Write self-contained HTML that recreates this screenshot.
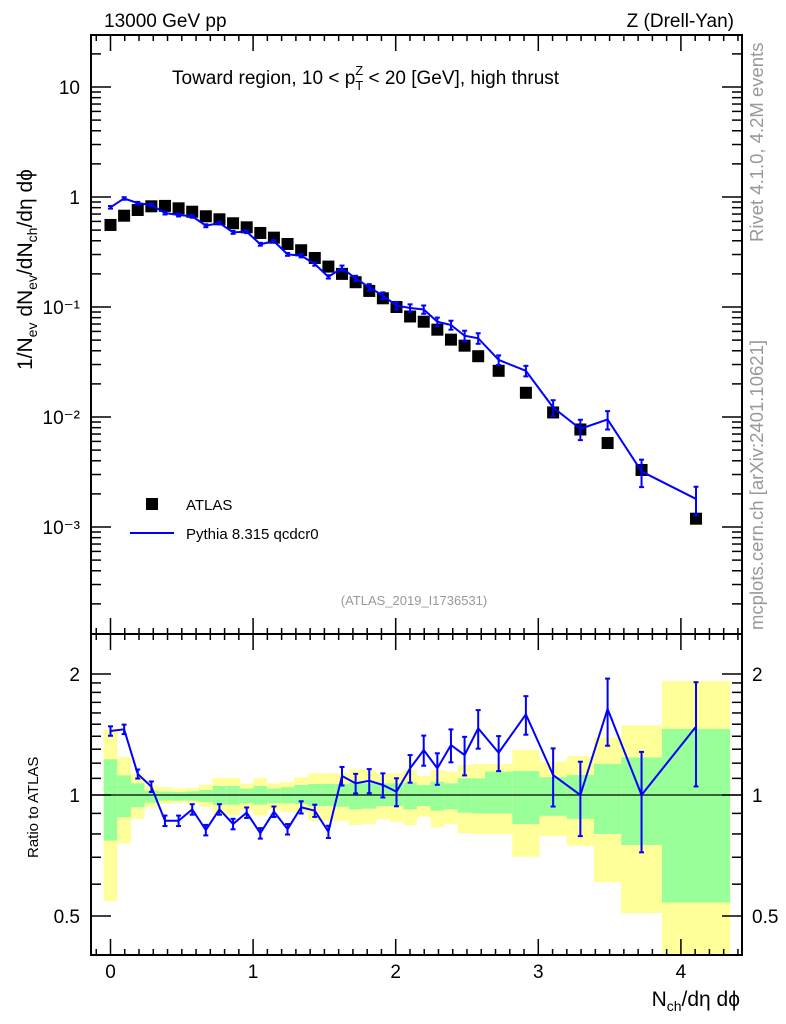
<!DOCTYPE html>
<html><head><meta charset="utf-8">
<style>
html,body{margin:0;padding:0;background:#fff;}
svg{display:block;font-family:"Liberation Sans",Arial,sans-serif;}
</style></head>
<body>
<svg id="chart" width="786" height="1024" viewBox="0 0 786 1024" xmlns="http://www.w3.org/2000/svg">
<g id="bands"></g>
<g id="marks"></g>
<g id="axes"></g>
<text x="104" y="27" font-size="19">13000 GeV pp</text>
<text x="734" y="27" font-size="19" text-anchor="end">Z (Drell-Yan)</text>
<text x="172" y="84" font-size="19">Toward region, 10 &lt; p<tspan font-size="13" dy="6">T</tspan><tspan font-size="13" dx="-8" dy="-15">Z</tspan><tspan dy="9"> &lt; 20 [GeV], high thrust</tspan></text>
<text x="414" y="605" font-size="13" fill="#999" text-anchor="middle">(ATLAS_2019_I1736531)</text>
<text transform="translate(763,242) rotate(-90)" font-size="18.5" fill="#999">Rivet 4.1.0,  4.2M events</text>
<text transform="translate(763,630) rotate(-90)" font-size="18.5" fill="#999">mcplots.cern.ch [arXiv:2401.10621]</text>
<text transform="translate(32,370) rotate(-90)" font-size="21">1/N<tspan font-size="14" dy="5">ev</tspan><tspan dy="-5"> dN</tspan><tspan font-size="14" dy="5">ev</tspan><tspan dy="-5">/dN</tspan><tspan font-size="14" dy="5">ch</tspan><tspan dy="-5">/dη dϕ</tspan></text>
<text transform="translate(38,858) rotate(-90)" font-size="15">Ratio to ATLAS</text>
<text x="740" y="1006" font-size="21" text-anchor="end">N<tspan font-size="14" dy="5">ch</tspan><tspan dy="-5">/dη dϕ</tspan></text>
<g>
<rect x="146" y="498" width="12" height="12" fill="#000"/>
<text x="186" y="510" font-size="15">ATLAS</text>
<line x1="130" y1="533" x2="174" y2="533" stroke="#0000ff" stroke-width="2"/>
<text x="186" y="539" font-size="15">Pythia 8.315 qcdcr0</text>
</g>
</svg>
<script>
// ---- data ----
const xVals = [0,0.0955,0.191,0.2865,0.382,0.4775,0.573,0.6685,0.764,0.8595,0.955,1.0505,1.146,1.2415,1.337,1.4325,1.528,1.6235,1.719,1.8145,1.91,2.0055,2.101,2.1965,2.292,2.3875,2.483,2.5785,2.722,2.913,3.104,3.295,3.486,3.724,4.106];
const binLo = [-0.0478,0.0478,0.1433,0.2388,0.3343,0.4298,0.5253,0.6208,0.7163,0.8118,0.9073,1.0028,1.0983,1.1938,1.2893,1.3848,1.4803,1.5758,1.6713,1.7668,1.8623,1.9578,2.0533,2.1488,2.2443,2.3398,2.4353,2.5308,2.6263,2.8173,3.0083,3.1993,3.3903,3.5813,3.8678];
const binHi = [0.0478,0.1433,0.2388,0.3343,0.4298,0.5253,0.6208,0.7163,0.8118,0.9073,1.0028,1.0983,1.1938,1.2893,1.3848,1.4803,1.5758,1.6713,1.7668,1.8623,1.9578,2.0533,2.1488,2.2443,2.3398,2.4353,2.5308,2.6263,2.8173,3.0083,3.1993,3.3903,3.5813,3.8678,4.3453];
const atlasVals = [0.557,0.676,0.762,0.823,0.83,0.789,0.735,0.668,0.627,0.577,0.53,0.471,0.427,0.374,0.328,0.279,0.233,0.2,0.168,0.14,0.12,0.1,0.082,0.0735,0.0622,0.0505,0.0445,0.0357,0.0263,0.0166,0.011,0.0077,0.0058,0.0033,0.00119];
const pythiaVals = [0.806,0.97,0.88,0.846,0.715,0.686,0.668,0.548,0.58,0.477,0.484,0.372,0.396,0.301,0.293,0.246,0.188,0.226,0.182,0.151,0.127,0.103,0.098,0.095,0.0735,0.0686,0.0548,0.052,0.033,0.0263,0.0122,0.0078,0.0095,0.0032,0.0018];
const ratioVals = [1.443,1.457,1.128,1.049,0.863,0.863,0.921,0.818,0.921,0.847,0.904,0.803,0.909,0.822,0.932,0.914,0.81,1.115,1.069,1.085,1.059,1.019,1.165,1.294,1.165,1.331,1.257,1.465,1.274,1.587,1.121,1.0,1.637,1.0,1.479];
const ratioRelErr = [0.027,0.027,0.026,0.03,0.03,0.03,0.03,0.03,0.03,0.03,0.03,0.03,0.03,0.03,0.035,0.035,0.035,0.053,0.056,0.069,0.069,0.08,0.079,0.086,0.09,0.094,0.11,0.11,0.1,0.11,0.165,0.21,0.19,0.28,0.29];
const yellowUp = [1.457,1.241,1.128,1.059,1.045,1.037,1.041,1.061,1.102,1.102,1.069,1.102,1.069,1.077,1.107,1.132,1.132,1.132,1.159,1.154,1.132,1.132,1.154,1.115,1.154,1.143,1.188,1.194,1.195,1.294,1.21,1.25,1.39,1.49,1.92];
const greenUp = [1.227,1.119,1.069,1.025,1.019,1.017,1.021,1.029,1.053,1.053,1.037,1.053,1.037,1.045,1.059,1.065,1.065,1.065,1.073,1.069,1.069,1.069,1.073,1.059,1.079,1.069,1.1,1.1,1.143,1.147,1.107,1.121,1.195,1.24,1.46];
const greenDn = [0.77,0.88,0.932,0.957,0.968,0.968,0.968,0.961,0.946,0.946,0.954,0.946,0.954,0.954,0.95,0.939,0.939,0.935,0.921,0.925,0.939,0.939,0.921,0.939,0.914,0.921,0.904,0.9,0.9,0.847,0.888,0.872,0.8,0.751,0.54];
const yellowDn = [0.545,0.758,0.872,0.932,0.95,0.957,0.954,0.935,0.89,0.89,0.918,0.89,0.918,0.907,0.904,0.863,0.863,0.863,0.842,0.847,0.87,0.858,0.842,0.883,0.831,0.847,0.803,0.8,0.8,0.702,0.79,0.748,0.607,0.508,0.4];
const mainTickLabels = ["10\u207B\u00B3","10\u207B\u00B2","10\u207B\u00B9","1","10"];
const ratioTickVals = [0.5,1,2];
const xTickVals = [0,1,2,3,4];

// ---- geometry ----
const L=91, R=742, T=35, MB=634, RT=634, RB=955;
const NS="http://www.w3.org/2000/svg";
function X(v){return 110.5+v*142.6;}
function Y(v){return 197-110*Math.log10(v);}
function YR(v){return 795-402*Math.log10(v);}
function mk(tag,attrs,parent){const e=document.createElementNS(NS,tag);for(const k in attrs)e.setAttribute(k,attrs[k]);parent.appendChild(e);return e;}
const bands=document.getElementById('bands'), marks=document.getElementById('marks'), axes=document.getElementById('axes');

// bands
for(let i=0;i<xVals.length;i++){
  const x1=X(binLo[i]), x2=Math.min(X(binHi[i]),R);
  const yt=Math.max(YR(yellowUp[i]),RT), yb=Math.min(YR(yellowDn[i]),RB);
  const y=mk('rect',{x:x1,y:yt,width:x2-x1,height:yb-yt,fill:'#ffff99'},bands);
  
  
  const gt=YR(greenUp[i]), gb=YR(greenDn[i]);
  const g=mk('rect',{x:x1,y:gt,width:x2-x1,height:gb-gt,fill:'#99ff99'},bands);
  
  
}
const one=mk('line',{x1:L,x2:R,y1:YR(1),y2:YR(1),stroke:'#000','stroke-width':1.2},marks);



// main: atlas
for(let i=0;i<xVals.length;i++){
  const r=mk('rect',{x:X(xVals[i])-6,y:Y(atlasVals[i])-6,width:12,height:12,fill:'#000'},marks);
  
  
}
// main: pythia
let pts=xVals.map((x,i)=>X(x)+','+Y(pythiaVals[i])).join(' ');
const pl=mk('polyline',{points:pts,fill:'none',stroke:'#0000ff','stroke-width':2},marks);


let rpts=xVals.map((x,i)=>X(x)+','+YR(ratioVals[i])).join(' ');
const rl=mk('polyline',{points:rpts,fill:'none',stroke:'#0000ff','stroke-width':2},marks);


function errbar(x,yt,yb,name){
  const g=mk('g',{stroke:'#0000ff','stroke-width':2},marks);
  
  
  mk('line',{x1:x,x2:x,y1:yt,y2:yb},g);
  mk('line',{x1:x-2.5,x2:x+2.5,y1:yt,y2:yt},g);
  mk('line',{x1:x-2.5,x2:x+2.5,y1:yb,y2:yb},g);
}
for(let i=0;i<xVals.length;i++){
  const e=ratioRelErr[i], x=X(xVals[i]);
  errbar(x,Y(pythiaVals[i]*(1+e)),Y(pythiaVals[i]*(1-e)),'pythia-error-bar');
  errbar(x,YR(ratioVals[i]*(1+e)),YR(ratioVals[i]*(1-e)),'ratio-error-bar');
}

// frames
const f1=mk('rect',{x:L,y:T,width:R-L,height:MB-T,fill:'none',stroke:'#000','stroke-width':2},axes);


const f2=mk('rect',{x:L,y:RT,width:R-L,height:RB-RT,fill:'none',stroke:'#000','stroke-width':2},axes);


function tk(x1,y1,x2,y2){mk('line',{x1:x1,y1:y1,x2:x2,y2:y2,stroke:'#000','stroke-width':1.5},axes);}
// x ticks
for(let k=-1;k<=44;k++){
  const v=k/10, x=X(v); if(x<L||x>R) continue;
  const big=(k%10===0), len=big?16:6;
  tk(x,MB,x,MB-len);tk(x,T,x,T+len);tk(x,RB,x,RB-len);tk(x,RT,x,RT+len);
}
xTickVals.forEach(v=>{
  const t=mk('text',{x:X(v),y:978,'font-size':19,'text-anchor':'middle'},axes);
  t.textContent=String(v);
  
  
});
// main y ticks
for(let d=-4;d<=1;d++){
  for(let m=1;m<10;m++){
    const v=m*Math.pow(10,d), y=Y(v); if(y<T||y>MB) continue;
    const len=m===1?20:10;
    tk(L,y,L+len,y);tk(R,y,R-len,y);
  }
}
mainTickLabels.forEach((s,i)=>{
  const v=Math.pow(10,i-3);
  const t=mk('text',{x:80,y:Y(v)+7,'font-size':19,'text-anchor':'end'},axes);
  t.textContent=s;
  
  
});
// ratio ticks
[0.4,0.5,0.6,0.7,0.8,0.9,1,2].forEach(v=>{
  const y=YR(v); const len=(v===0.5||v===1||v===2)?20:10;
  tk(L,y,L+len,y);tk(R,y,R-len,y);
});
[1.1,1.2,1.3,1.4,1.5,1.6,1.7,1.8,1.9].forEach(v=>{const y=YR(v);tk(L,y,L+10,y);tk(R,y,R-10,y);});
ratioTickVals.forEach(v=>{
  const t=mk('text',{x:80,y:YR(v)+7,'font-size':19,'text-anchor':'end'},axes);
  t.textContent=String(v);
  
  
  const t2=mk('text',{x:752,y:YR(v)+7,'font-size':19},axes);
  t2.textContent=String(v);
  
  
});
</script>
</body></html>
